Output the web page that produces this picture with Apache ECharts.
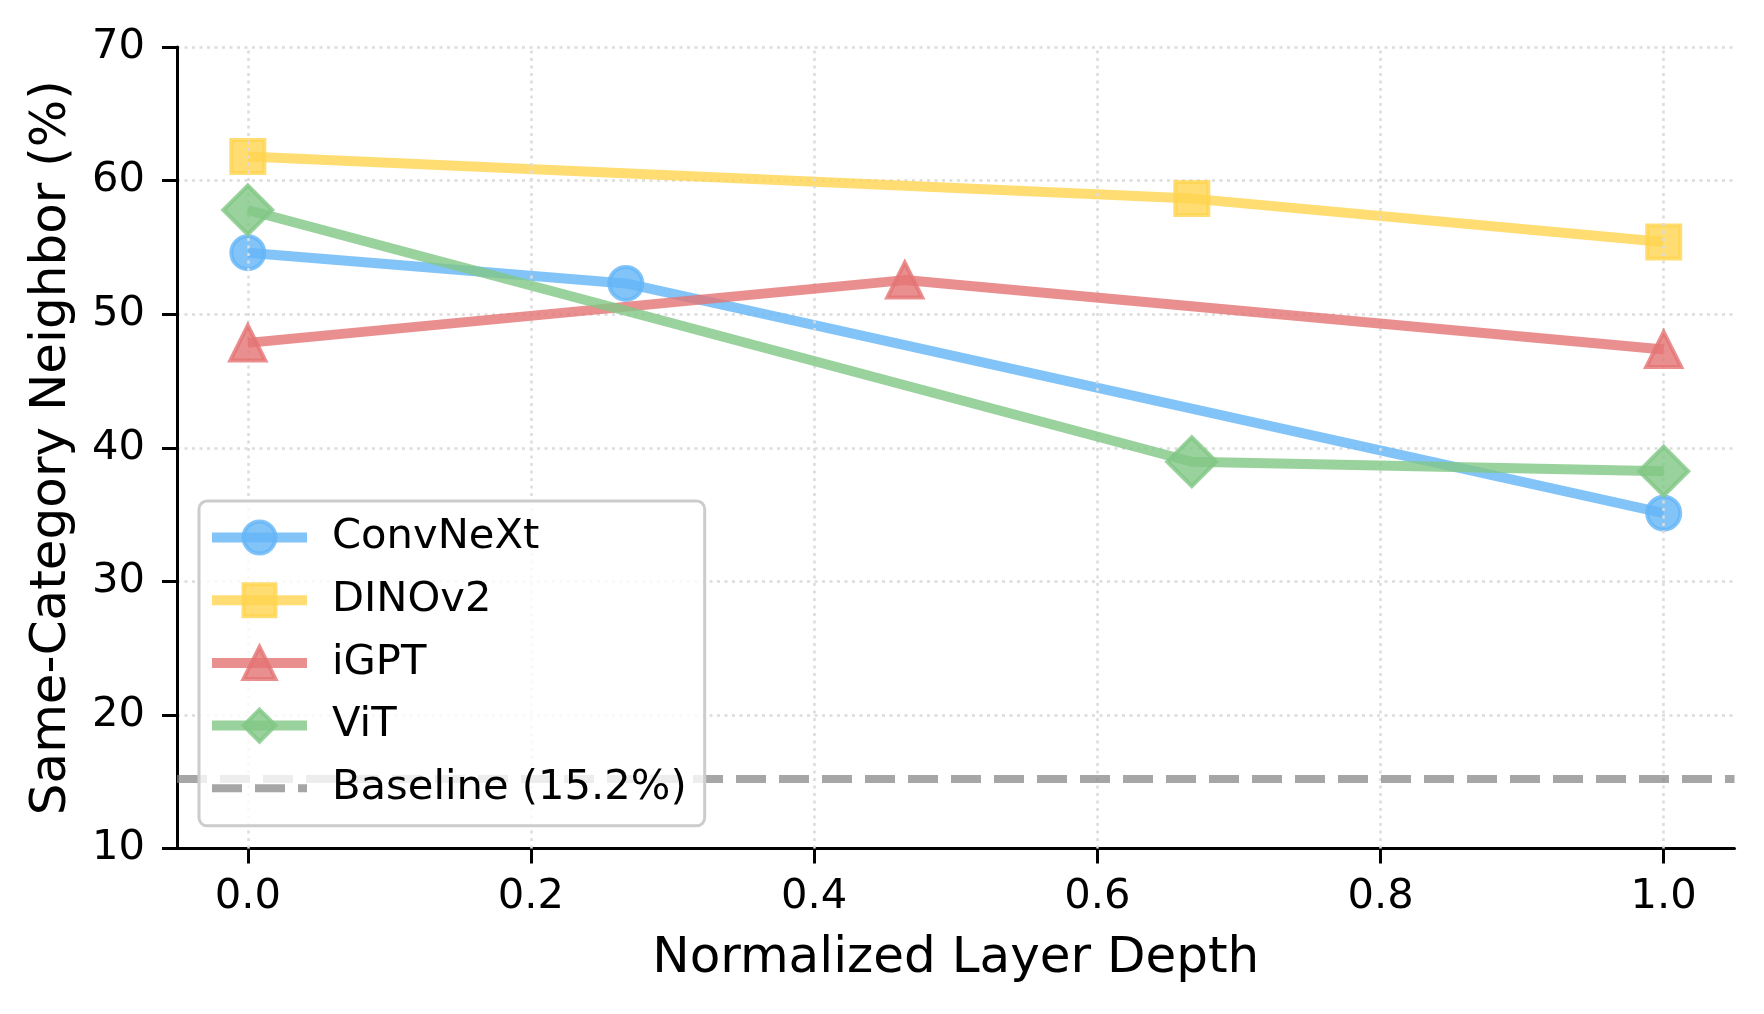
<!DOCTYPE html>
<html>
<head>
<meta charset="utf-8">
<script src="https://cdn.jsdelivr.net/npm/echarts@6/dist/echarts.min.js"></script>
<style>
  html, body { margin: 0; padding: 0; background: #ffffff; }
  #chart { width: 1764px; height: 1014px; }
</style>
</head>
<body>
<div id="chart"></div>
<script>
// ---- data ----
const seriesNames = ['ConvNeXt', 'DINOv2', 'iGPT', 'ViT'];
const convnextX = [0, 0.267, 1.0];
const convnextY = [54.6, 52.3, 35.1];
const dinov2X = [0, 0.6667, 1.0];
const dinov2Y = [61.8, 58.65, 55.4];
const igptX = [0, 0.464, 1.0];
const igptY = [47.85, 52.55, 47.35];
const vitX = [0, 0.6667, 1.0];
const vitY = [57.8, 38.95, 38.25];
const baselineName = 'Baseline (15.2%)';
const baselineValue = 15.2;
const xTicks = [0.0, 0.2, 0.4, 0.6, 0.8, 1.0];
const yTicks = [10, 20, 30, 40, 50, 60, 70];
const xRange = [-0.05, 1.05];

// ---- styling ----
const FONT = 'DejaVu Sans';
const TICK_FS = 41.67;
const LABEL_FS = 50;
const colors = {
  ConvNeXt: [100, 181, 246],
  DINOv2: [255, 213, 79],
  iGPT: [229, 115, 115],
  ViT: [129, 199, 132]
};
const symbols = {
  ConvNeXt: ['circle', 33],
  DINOv2: ['rect', 33],
  iGPT: ['triangle', 35],
  ViT: ['diamond', 49]
};
function rgba(c, a) { return 'rgba(' + c[0] + ',' + c[1] + ',' + c[2] + ',' + a + ')'; }
function pairs(xs, ys) { return xs.map((x, i) => [x, ys[i]]); }

const dataMap = {
  ConvNeXt: pairs(convnextX, convnextY),
  DINOv2: pairs(dinov2X, dinov2Y),
  iGPT: pairs(igptX, igptY),
  ViT: pairs(vitX, vitY)
};

const modelSeries = seriesNames.map((name, i) => ({
  name: name,
  type: 'line',
  data: dataMap[name],
  z: 3 + i,
  symbol: symbols[name][0],
  symbolSize: symbols[name][1],
  showSymbol: true,
  silent: true,
  animation: false,
  lineStyle: { color: rgba(colors[name], 0.8), width: 10, join: 'round' },
  itemStyle: {
    color: rgba(colors[name], 0.8),
    borderColor: rgba(colors[name], 0.8),
    borderWidth: 4
  }
}));

const gridSeries = {
  name: '__grid',
  type: 'line',
  data: [],
  z: 1,
  silent: true,
  animation: false,
  markLine: {
    silent: true,
    animation: false,
    symbol: 'none',
    label: { show: false },
    lineStyle: { color: '#dcdcdc', width: 2.5, type: [3, 4.5] },
    data: xTicks.map(v => ({ xAxis: v }))
  }
};

const baselineStyle = { color: 'rgba(128,128,128,0.7)', width: 8, type: [30, 13] };
const baselineSeries = {
  name: baselineName,
  type: 'line',
  data: [[xRange[0], baselineValue], [xRange[1], baselineValue]],
  z: 8,
  symbol: 'none',
  silent: true,
  animation: false,
  lineStyle: baselineStyle,
  itemStyle: { color: 'rgba(128,128,128,0.7)' }
};

const legendData = seriesNames.map(name => ({
  name: name,
  lineStyle: { color: rgba(colors[name], 0.8), width: 10 },
  itemStyle: { color: rgba(colors[name], 0.8), borderColor: rgba(colors[name], 0.8), borderWidth: 4 }
})).concat([{
  name: baselineName,
  lineStyle: baselineStyle,
  itemStyle: { color: 'rgba(0,0,0,0)', borderColor: 'rgba(0,0,0,0)', borderWidth: 0, opacity: 0 }
}]);

const option = {
  backgroundColor: '#ffffff',
  animation: false,
  textStyle: { fontFamily: FONT },
  grid: { left: 177, right: 29.5, top: 47, bottom: 165.5, containLabel: false },
  legend: {
    data: legendData,
    orient: 'vertical',
    left: 199,
    top: 501,
    itemWidth: 95,
    itemHeight: 40,
    itemGap: 20.7,
    padding: [15.5, 18, 16.5, 8],
    backgroundColor: 'rgba(255,255,255,0.8)',
    borderColor: '#cccccc',
    borderWidth: 3,
    borderRadius: 8,
    textStyle: { fontFamily: FONT, fontSize: TICK_FS, lineHeight: 40, color: '#000000', padding: [0, 0, 0, 20] },
    z: 20
  },
  xAxis: {
    type: 'value',
    min: xRange[0],
    max: xRange[1],
    name: 'Normalized Layer Depth',
    nameLocation: 'middle',
    nameGap: 86,
    nameTextStyle: { fontFamily: FONT, fontSize: LABEL_FS, color: '#000000' },
    axisLine: { show: true, onZero: false, lineStyle: { color: '#000000', width: 3 } },
    axisTick: { show: true, inside: false, length: 15, lineStyle: { color: '#000000', width: 3 }, customValues: xTicks },
    axisLabel: {
      fontFamily: FONT, fontSize: TICK_FS, color: '#000000', margin: 27.5,
      customValues: xTicks,
      formatter: v => Number(v).toFixed(1)
    },
    splitLine: { show: false }
  },
  yAxis: {
    type: 'value',
    min: yTicks[0],
    max: yTicks[yTicks.length - 1],
    interval: 10,
    name: 'Same-Category Neighbor (%)',
    nameLocation: 'middle',
    nameGap: 100,
    nameTextStyle: { fontFamily: FONT, fontSize: LABEL_FS, color: '#000000' },
    axisLine: { show: true, onZero: false, lineStyle: { color: '#000000', width: 3 } },
    axisTick: { show: true, inside: false, length: 15, lineStyle: { color: '#000000', width: 3 } },
    axisLabel: { fontFamily: FONT, fontSize: TICK_FS, color: '#000000', margin: 32 },
    splitLine: { show: true, lineStyle: { color: '#dcdcdc', width: 2.5, type: [3, 4.5] } }
  },
  series: [gridSeries].concat(modelSeries).concat([baselineSeries])
};

const chart = echarts.init(document.getElementById('chart'), null, { renderer: 'canvas' });
chart.setOption(option);
</script>
</body>
</html>
